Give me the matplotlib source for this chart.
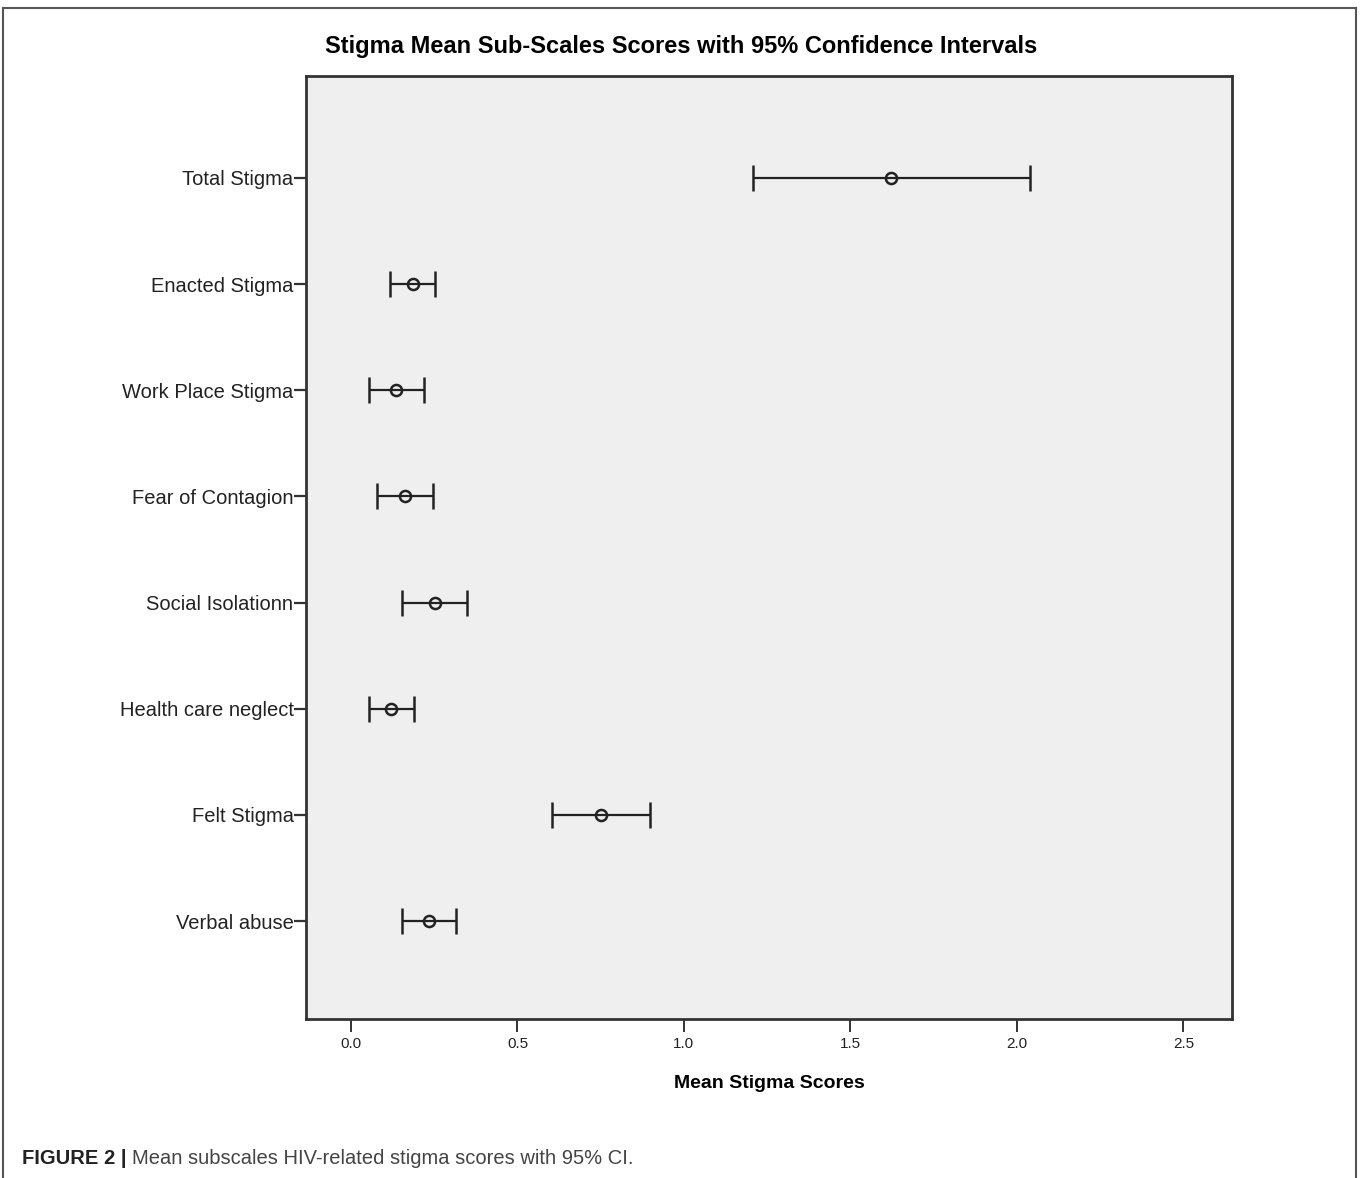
import matplotlib
matplotlib.use('Agg')
import matplotlib.pyplot as plt
from matplotlib.lines import Line2D

# subscale names, bottom to top
labels = ['Verbal abuse', 'Felt Stigma', 'Health care neglect', 'Social Isolationn',
          'Fear of Contagion', 'Work Place Stigma', 'Enacted Stigma', 'Total Stigma']
means = [0.234, 0.751, 0.120, 0.251, 0.162, 0.135, 0.185, 1.622]
ci_low = [0.152, 0.604, 0.055, 0.152, 0.078, 0.053, 0.118, 1.208]
ci_high = [0.315, 0.898, 0.188, 0.349, 0.246, 0.218, 0.252, 2.038]
xticks = [0.0, 0.5, 1.0, 1.5, 2.0, 2.5]

plt.rcParams['font.family'] = ['Liberation Sans', 'DejaVu Sans']

W, H = 1365, 1178
fig = plt.figure(figsize=(W / 100, H / 100), dpi=100)

# axes placed in pixels
left, right, top, bottom = 306, 1232, 76, 1019
ax = fig.add_axes([left / W, 1 - bottom / H, (right - left) / W, (bottom - top) / H])
ax.set_facecolor('#efefef')

ypos = list(range(1, len(labels) + 1))
err_lo = [m - l for m, l in zip(means, ci_low)]
err_hi = [h - m for m, h in zip(means, ci_high)]
ax.errorbar(means, ypos, xerr=[err_lo, err_hi], fmt='o', color='#222222',
            ecolor='#222222', elinewidth=1.6, capsize=9.5, capthick=1.6,
            markersize=8, markerfacecolor='none', markeredgewidth=1.8)

ax.set_xlim(-0.135, 2.646)
ax.set_ylim(0.077, 8.96)
ax.set_yticks(ypos)
ax.set_yticklabels(labels, fontsize=14.5, color='#222222')
ax.set_xticks(xticks)
ax.set_xticklabels(['%.1f' % t for t in xticks], fontsize=11, color='#222222')
ax.tick_params(axis='y', direction='out', length=9, width=1.6, pad=0, color='#333333')
ax.tick_params(axis='x', direction='out', length=9, width=1.4, pad=4, color='#333333')
for s in ax.spines.values():
    s.set_color('#333333')
    s.set_linewidth(2)

ax.set_xlabel('Mean Stigma Scores', fontsize=14, fontweight='bold', labelpad=17)
fig.text(681 / W, 1 - 47 / H, 'Stigma Mean Sub-Scales Scores with 95% Confidence Intervals',
         ha='center', va='center', fontsize=17, fontweight='bold')

# outer figure frame (open at bottom)
fc = '#555555'
fig.add_artist(Line2D([3 / W, 1356 / W], [1 - 8 / H, 1 - 8 / H], transform=fig.transFigure, color=fc, lw=1.5))
fig.add_artist(Line2D([3 / W, 3 / W], [1 - 8 / H, 0], transform=fig.transFigure, color=fc, lw=1.5))
fig.add_artist(Line2D([1356 / W, 1356 / W], [1 - 8 / H, 0], transform=fig.transFigure, color=fc, lw=1.5))

# caption
cap1 = fig.text(22 / W, 1 - 1159 / H, 'FIGURE 2 | ', fontsize=14.5, fontweight='bold',
                va='center', color='#222222')
ax.annotate('Mean subscales HIV-related stigma scores with 95% CI.', xy=(1, 0.5),
            xycoords=cap1, va='center', ha='left', fontsize=14.5, color='#444444',
            annotation_clip=False)

fig.savefig('out.png', dpi=100)
